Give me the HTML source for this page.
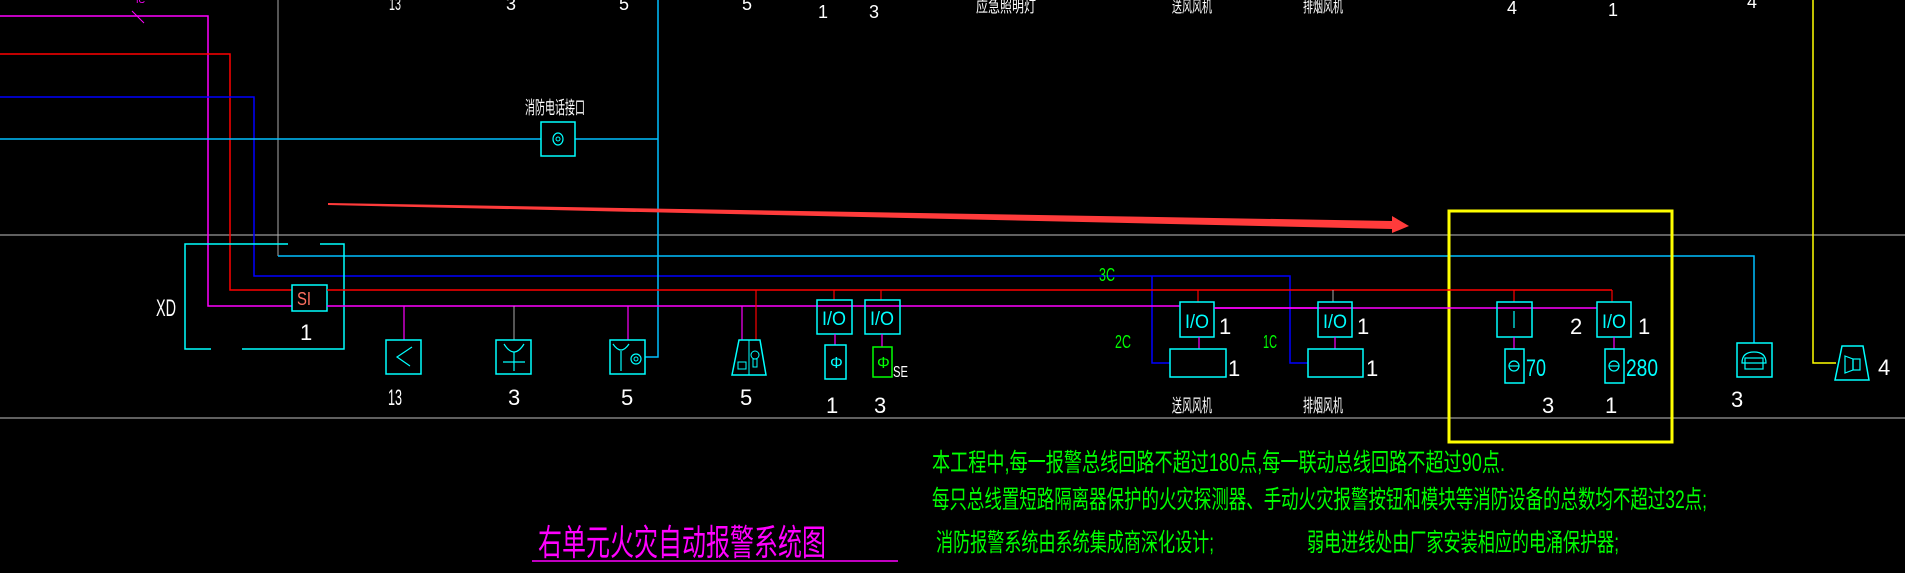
<!DOCTYPE html>
<html><head><meta charset="utf-8"><style>
html,body{margin:0;padding:0;background:#000;width:1905px;height:573px;overflow:hidden}
svg{display:block}
text{font-family:"Liberation Sans","Noto Sans CJK SC",sans-serif}
</style></head><body>
<svg width="1905" height="573" viewBox="0 0 1905 573" xmlns="http://www.w3.org/2000/svg">
<rect width="1905" height="573" fill="#000"/>
<line x1="0" y1="235" x2="1905" y2="235" stroke="#808080" stroke-width="1.5"/>
<line x1="0" y1="418" x2="1905" y2="418" stroke="#808080" stroke-width="1.5"/>
<polyline points="0,16 208,16 208,306 292,306" fill="none" stroke="#ff00ff" stroke-width="1.5"/>
<line x1="132" y1="11" x2="144" y2="23" stroke="#ff00ff" stroke-width="1"/>
<text x="136" y="3" fill="#ff00ff" font-size="9">IC</text>
<polyline points="0,54 230,54 230,290 292,290" fill="none" stroke="#ff0000" stroke-width="1.5"/>
<polyline points="0,97 254,97 254,276 1290,276 1290,363 1308,363" fill="none" stroke="#0000ff" stroke-width="1.5"/>
<polyline points="1152,276 1152,363 1170,363" fill="none" stroke="#0000ff" stroke-width="1.5"/>
<line x1="278" y1="0" x2="278" y2="256" stroke="#aaaaaa" stroke-width="1"/>
<polyline points="278,256 1754,256 1754,343" fill="none" stroke="#00bfff" stroke-width="1.5"/>
<line x1="0" y1="139" x2="541" y2="139" stroke="#00bfff" stroke-width="1.5"/>
<line x1="575" y1="139" x2="658" y2="139" stroke="#00bfff" stroke-width="1.5"/>
<polyline points="658,0 658,357 645,357" fill="none" stroke="#00bfff" stroke-width="1.5"/>
<rect x="541" y="122" width="34" height="34" fill="none" stroke="#00ffff" stroke-width="1.5"/>
<ellipse cx="558" cy="139" rx="5" ry="6" fill="none" stroke="#00ffff" stroke-width="1.2"/>
<circle cx="558" cy="139" r="2" fill="none" stroke="#00ffff" stroke-width="1"/>
<text x="525" y="114" fill="#fff" font-size="18" textLength="60" lengthAdjust="spacingAndGlyphs">消防电话接口</text>
<polygon points="328,203 1392,221 1392,216 1409,226 1392,233 1392,229 328,205" fill="#ff3b3b"/>
<g fill="#fff" font-size="18">
<text x="389" y="10" textLength="12" lengthAdjust="spacingAndGlyphs">13</text>
<text x="506" y="10">3</text><text x="619" y="10">5</text><text x="742" y="10">5</text>
<text x="818" y="18">1</text><text x="869" y="18">3</text>
<text x="976" y="12" font-size="16" textLength="60" lengthAdjust="spacingAndGlyphs">应急照明灯</text>
<text x="1172" y="12" font-size="16" textLength="40" lengthAdjust="spacingAndGlyphs">送风风机</text>
<text x="1303" y="12" font-size="16" textLength="40" lengthAdjust="spacingAndGlyphs">排烟风机</text>
<text x="1507" y="14">4</text><text x="1608" y="16">1</text><text x="1747" y="8">4</text>
</g>
<polyline points="1813,0 1813,363 1836,363" fill="none" stroke="#ffff00" stroke-width="1.5"/>
<rect x="1449" y="211" width="223" height="231" fill="none" stroke="#ffff00" stroke-width="3"/>
<polyline points="288,244 185,244 185,349 211,349" fill="none" stroke="#00ffff" stroke-width="1.5"/>
<polyline points="320,244 344,244 344,349 242,349" fill="none" stroke="#00ffff" stroke-width="1.5"/>
<text x="156" y="316" fill="#fff" font-size="24" textLength="20" lengthAdjust="spacingAndGlyphs">XD</text>
<rect x="292" y="285" width="35" height="26" fill="none" stroke="#00ffff" stroke-width="1.5"/>
<text x="297" y="305" fill="#ff7060" font-size="18" textLength="14" lengthAdjust="spacingAndGlyphs">SI</text>
<text x="300" y="340" fill="#fff" font-size="22">1</text>
<line x1="327" y1="290" x2="1612" y2="290" stroke="#ff0000" stroke-width="1.5"/>
<line x1="1612" y1="290" x2="1612" y2="302" stroke="#ff0000" stroke-width="1.2"/>
<line x1="327" y1="306" x2="1180" y2="306" stroke="#ff00ff" stroke-width="1.5"/>
<line x1="1214" y1="308" x2="1597" y2="308" stroke="#ff00ff" stroke-width="1.5"/>
<line x1="404" y1="306" x2="404" y2="340" stroke="#ff00ff" stroke-width="1.2"/>
<rect x="386" y="340" width="35" height="34" fill="none" stroke="#00ffff" stroke-width="1.5"/>
<polyline points="412,347 397,357 410,366" fill="none" stroke="#00ffff" stroke-width="1.2"/>
<line x1="514" y1="306" x2="514" y2="340" stroke="#aaa" stroke-width="1"/>
<rect x="496" y="340" width="35" height="34" fill="none" stroke="#00ffff" stroke-width="1.5"/>
<path d="M504,344 Q514,360 524,344" fill="none" stroke="#00ffff" stroke-width="1.2"/>
<line x1="514" y1="352" x2="514" y2="371" stroke="#00ffff" stroke-width="1.2"/>
<line x1="503" y1="362" x2="525" y2="362" stroke="#00ffff" stroke-width="1.2"/>
<line x1="628" y1="306" x2="628" y2="340" stroke="#ff00ff" stroke-width="1.2"/>
<rect x="610" y="340" width="35" height="34" fill="none" stroke="#00ffff" stroke-width="1.5"/>
<path d="M613,344 Q621,356 629,344" fill="none" stroke="#00ffff" stroke-width="1.2"/>
<line x1="621" y1="351" x2="621" y2="371" stroke="#00ffff" stroke-width="1.2"/>
<circle cx="636" cy="359" r="5" fill="none" stroke="#00ffff" stroke-width="1.2"/>
<circle cx="636" cy="359" r="2" fill="none" stroke="#00ffff" stroke-width="1"/>
<line x1="742" y1="306" x2="742" y2="340" stroke="#ff00ff" stroke-width="1.2"/>
<line x1="756" y1="290" x2="756" y2="340" stroke="#ff0000" stroke-width="1.2"/>
<polygon points="739,340 760,340 766,375 732,375" fill="none" stroke="#00ffff" stroke-width="1.5"/>
<line x1="749" y1="340" x2="749" y2="375" stroke="#00ffff" stroke-width="1"/>
<rect x="738" y="362" width="8" height="7" fill="none" stroke="#00ffff" stroke-width="1"/>
<circle cx="755" cy="355" r="4" fill="none" stroke="#00ffff" stroke-width="1"/>
<rect x="753" y="359" width="4" height="8" fill="none" stroke="#00ffff" stroke-width="1"/>
<line x1="834" y1="290" x2="834" y2="300" stroke="#ff0000" stroke-width="1.2"/>
<rect x="817" y="300" width="35" height="34" fill="none" stroke="#00ffff" stroke-width="1.5"/>
<text x="822" y="325" fill="#00ffff" font-size="19" textLength="24" lengthAdjust="spacingAndGlyphs">I/O</text>
<line x1="835" y1="334" x2="835" y2="345" stroke="#ff00ff" stroke-width="1.2"/>
<rect x="825" y="345" width="21" height="34" fill="none" stroke="#00ffff" stroke-width="1.5"/>
<text x="830" y="368" fill="#00ffff" font-size="16">Φ</text>
<line x1="881" y1="290" x2="881" y2="300" stroke="#ff0000" stroke-width="1.2"/>
<rect x="865" y="300" width="35" height="34" fill="none" stroke="#00ffff" stroke-width="1.5"/>
<text x="870" y="325" fill="#00ffff" font-size="19" textLength="24" lengthAdjust="spacingAndGlyphs">I/O</text>
<line x1="882" y1="334" x2="882" y2="347" stroke="#ff00ff" stroke-width="1.2"/>
<rect x="873" y="347" width="19" height="30" fill="none" stroke="#00ff00" stroke-width="1.5"/>
<text x="877" y="368" fill="#00ff00" font-size="16">Φ</text>
<text x="893" y="377" fill="#fff" font-size="16" textLength="15" lengthAdjust="spacingAndGlyphs">SE</text>
<g fill="#fff" font-size="22">
<text x="388" y="405" textLength="14" lengthAdjust="spacingAndGlyphs">13</text>
<text x="508" y="405">3</text><text x="621" y="405">5</text><text x="740" y="405">5</text>
<text x="826" y="413">1</text><text x="874" y="413">3</text>
<text x="1542" y="413">3</text><text x="1605" y="413">1</text><text x="1731" y="407">3</text>
</g>
<line x1="1198" y1="290" x2="1198" y2="302" stroke="#ff0000" stroke-width="1.2"/>
<rect x="1180" y="302" width="34" height="35" fill="none" stroke="#00ffff" stroke-width="1.5"/>
<text x="1185" y="328" fill="#00ffff" font-size="19" textLength="24" lengthAdjust="spacingAndGlyphs">I/O</text>
<line x1="1199" y1="337" x2="1199" y2="349" stroke="#ff00ff" stroke-width="1.2"/>
<rect x="1170" y="349" width="56" height="28" fill="none" stroke="#00ffff" stroke-width="1.5"/>
<line x1="1214" y1="308" x2="1318" y2="308" stroke="#ff00ff" stroke-width="1.5"/>
<line x1="1333" y1="290" x2="1333" y2="302" stroke="#aaa" stroke-width="1"/>
<rect x="1318" y="302" width="34" height="35" fill="none" stroke="#00ffff" stroke-width="1.5"/>
<text x="1323" y="328" fill="#00ffff" font-size="19" textLength="24" lengthAdjust="spacingAndGlyphs">I/O</text>
<line x1="1335" y1="337" x2="1335" y2="349" stroke="#ff00ff" stroke-width="1.2"/>
<rect x="1308" y="349" width="55" height="28" fill="none" stroke="#00ffff" stroke-width="1.5"/>
<g fill="#fff" font-size="22">
<text x="1219" y="334">1</text><text x="1357" y="334">1</text>
<text x="1228" y="376">1</text><text x="1366" y="376">1</text>
<text x="1570" y="334">2</text><text x="1638" y="334">1</text>
<text x="1878" y="375">4</text>
</g>
<text x="1172" y="412" fill="#fff" font-size="18" textLength="40" lengthAdjust="spacingAndGlyphs">送风风机</text>
<text x="1303" y="412" fill="#fff" font-size="18" textLength="40" lengthAdjust="spacingAndGlyphs">排烟风机</text>
<g fill="#00ff00" font-size="18">
<text x="1099" y="281" textLength="16" lengthAdjust="spacingAndGlyphs">3C</text>
<text x="1115" y="348" textLength="16" lengthAdjust="spacingAndGlyphs">2C</text>
<text x="1263" y="348" textLength="14" lengthAdjust="spacingAndGlyphs">1C</text>
</g>
<line x1="1514" y1="290" x2="1514" y2="302" stroke="#ff0000" stroke-width="1.2"/>
<rect x="1497" y="302" width="35" height="35" fill="none" stroke="#00ffff" stroke-width="1.5"/>
<line x1="1514" y1="311" x2="1514" y2="328" stroke="#00ffff" stroke-width="1.2"/>
<line x1="1514" y1="337" x2="1514" y2="349" stroke="#ff00ff" stroke-width="1.2"/>
<rect x="1505" y="349" width="19" height="34" fill="none" stroke="#00ffff" stroke-width="1.5"/>
<circle cx="1514" cy="366" r="5" fill="none" stroke="#00ffff" stroke-width="1.2"/>
<line x1="1509" y1="366" x2="1519" y2="366" stroke="#00ffff" stroke-width="1.2"/>
<text x="1526" y="376" fill="#00ffff" font-size="24" textLength="20" lengthAdjust="spacingAndGlyphs">70</text>
<rect x="1597" y="302" width="34" height="35" fill="none" stroke="#00ffff" stroke-width="1.5"/>
<text x="1602" y="328" fill="#00ffff" font-size="19" textLength="24" lengthAdjust="spacingAndGlyphs">I/O</text>
<line x1="1614" y1="337" x2="1614" y2="349" stroke="#ff00ff" stroke-width="1.2"/>
<rect x="1605" y="349" width="19" height="34" fill="none" stroke="#00ffff" stroke-width="1.5"/>
<circle cx="1614" cy="366" r="5" fill="none" stroke="#00ffff" stroke-width="1.2"/>
<line x1="1609" y1="366" x2="1619" y2="366" stroke="#00ffff" stroke-width="1.2"/>
<text x="1626" y="376" fill="#00ffff" font-size="24" textLength="32" lengthAdjust="spacingAndGlyphs">280</text>
<rect x="1737" y="343" width="35" height="34" fill="none" stroke="#00ffff" stroke-width="1.5"/>
<path d="M1742,363 Q1742,352 1754,352 Q1766,352 1766,363 Z" fill="none" stroke="#00ffff" stroke-width="1.2"/>
<rect x="1745" y="358" width="18" height="11" fill="none" stroke="#00ffff" stroke-width="1.2"/>
<polygon points="1842,346 1863,346 1869,380 1835,380" fill="none" stroke="#00ffff" stroke-width="1.5"/>
<polygon points="1845,356 1853,359 1853,370 1845,373" fill="none" stroke="#00ffff" stroke-width="1.2"/>
<rect x="1853" y="359" width="7" height="11" fill="none" stroke="#00ffff" stroke-width="1.2"/>
<text x="538" y="555" fill="#ff00ff" font-size="36" textLength="288" lengthAdjust="spacingAndGlyphs">右单元火灾自动报警系统图</text>
<line x1="532" y1="561" x2="898" y2="561" stroke="#ff00ff" stroke-width="1.5"/>
<g fill="#00ff00" font-size="25">
<text x="932" y="471" textLength="573" lengthAdjust="spacingAndGlyphs">本工程中,每一报警总线回路不超过180点,每一联动总线回路不超过90点.</text>
<text x="932" y="508" textLength="775" lengthAdjust="spacingAndGlyphs">每只总线置短路隔离器保护的火灾探测器、手动火灾报警按钮和模块等消防设备的总数均不超过32点;</text>
<text x="936" y="551" textLength="278" lengthAdjust="spacingAndGlyphs">消防报警系统由系统集成商深化设计;</text>
<text x="1307" y="551" textLength="312" lengthAdjust="spacingAndGlyphs">弱电进线处由厂家安装相应的电涌保护器;</text>
</g>
</svg>
</body></html>
